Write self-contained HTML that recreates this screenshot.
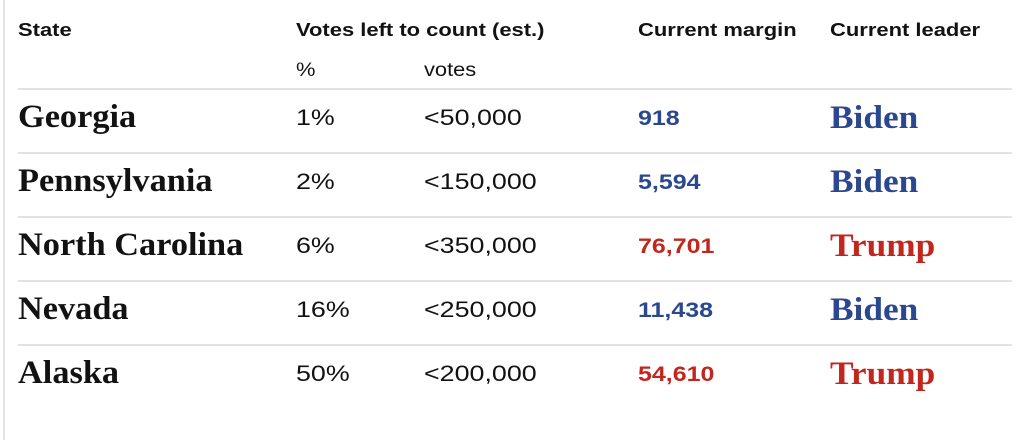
<!DOCTYPE html>
<html><head><style>
body{margin:0;width:1024px;height:440px;background:#fff;position:relative;overflow:hidden;font-family:"Liberation Sans",sans-serif;color:#121212}
.b{position:absolute;left:3px;top:0;width:2px;height:440px;background:#e4e4e4}
.l{position:absolute;left:18px;width:994px;height:2px;background:#e2e2e2}
.t{position:absolute;white-space:nowrap;line-height:1;transform-origin:0 0}
.h{font-weight:bold;font-size:18px;transform:scaleX(1.22)}
.s{font-size:19px;transform:scaleX(1.15)}
.n{font-family:"Liberation Serif",serif;font-weight:bold;font-size:33px;transform:scaleX(1.04)}
.v{font-size:22px;transform:scaleX(1.22)}
.m{font-size:21px;font-weight:bold;transform:scaleX(1.19)}
.ld{font-family:"Liberation Serif",serif;font-weight:bold;font-size:33px;transform:scaleX(1.07)}
.bl{color:#2b478f}.rd{color:#c2271f}
</style></head><body>
<div class="b"></div>
<div class="t h" style="left:18px;top:21px">State</div>
<div class="t h" style="left:296px;top:21px">Votes left to count (est.)</div>
<div class="t h" style="left:638px;top:21px">Current margin</div>
<div class="t h" style="left:830px;top:21px">Current leader</div>
<div class="t s" style="left:296px;top:61px">%</div>
<div class="t s" style="left:424px;top:61px">votes</div>
<div class="l" style="top:88px"></div>
<div class="l" style="top:152px"></div>
<div class="l" style="top:216px"></div>
<div class="l" style="top:280px"></div>
<div class="l" style="top:344px"></div>

<div class="t n" style="left:18px;top:101px">Georgia</div>
<div class="t v" style="left:296px;top:107px">1%</div>
<div class="t v" style="left:424px;top:107px">&lt;50,000</div>
<div class="t m bl" style="left:638px;top:108px">918</div>
<div class="t ld bl" style="left:830px;top:102px">Biden</div>

<div class="t n" style="left:18px;top:165px">Pennsylvania</div>
<div class="t v" style="left:296px;top:171px">2%</div>
<div class="t v" style="left:424px;top:171px">&lt;150,000</div>
<div class="t m bl" style="left:638px;top:172px">5,594</div>
<div class="t ld bl" style="left:830px;top:166px">Biden</div>

<div class="t n" style="left:18px;top:229px">North Carolina</div>
<div class="t v" style="left:296px;top:235px">6%</div>
<div class="t v" style="left:424px;top:235px">&lt;350,000</div>
<div class="t m rd" style="left:638px;top:236px">76,701</div>
<div class="t ld rd" style="left:830px;top:230px">Trump</div>

<div class="t n" style="left:18px;top:293px">Nevada</div>
<div class="t v" style="left:296px;top:299px">16%</div>
<div class="t v" style="left:424px;top:299px">&lt;250,000</div>
<div class="t m bl" style="left:638px;top:300px">11,438</div>
<div class="t ld bl" style="left:830px;top:294px">Biden</div>

<div class="t n" style="left:18px;top:357px">Alaska</div>
<div class="t v" style="left:296px;top:363px">50%</div>
<div class="t v" style="left:424px;top:363px">&lt;200,000</div>
<div class="t m rd" style="left:638px;top:364px">54,610</div>
<div class="t ld rd" style="left:830px;top:358px">Trump</div>
</body></html>
